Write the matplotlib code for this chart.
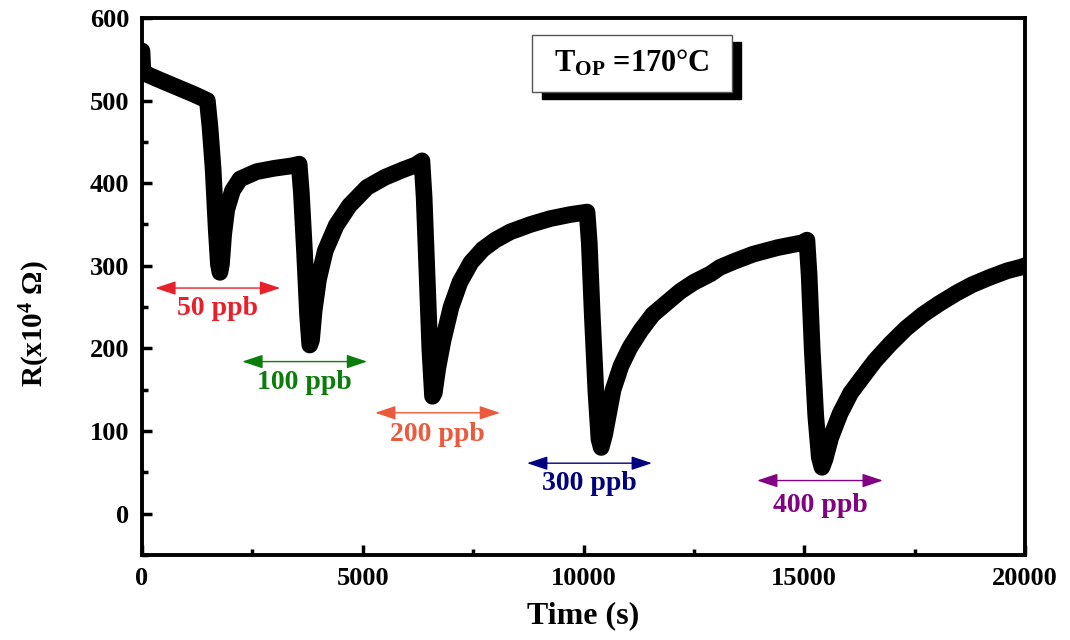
import matplotlib
matplotlib.use("Agg")
import matplotlib.pyplot as plt
from matplotlib.patches import Rectangle
from matplotlib.ticker import MultipleLocator

# sensor response (time in s, R in 1e4 ohm)
time_s = [0, 20, 100, 400, 800, 1200, 1480, 1540, 1610, 1680, 1730, 1765, 1800,
          1850, 1920, 2050, 2220, 2600, 3000, 3400, 3560,
          3610, 3680, 3750, 3800, 3840, 3900, 4000, 4150, 4400, 4700, 5100,
          5500, 5900, 6200, 6340,
          6390, 6450, 6520, 6580, 6620, 6700, 6820, 7000, 7200, 7450, 7720,
          8000, 8340, 8800, 9240, 9700, 10080,
          10130, 10200, 10280, 10350, 10400, 10480, 10670, 10850, 11050, 11300,
          11570, 11900, 12190, 12500, 12870, 13090, 13400, 13840, 14400,
          14970, 15060,
          15110, 15180, 15260, 15340, 15400, 15470, 15600, 15810, 16050, 16330,
          16600, 16940, 17300, 17690, 18050, 18450, 18800, 19200, 19600, 19890,
          20000]
resistance = [560, 536, 532, 525, 516, 507, 500, 468, 418, 345, 302, 292, 302,
              338, 368, 391, 405, 414, 418, 421, 423,
              388, 318, 240, 204, 210, 246, 284, 318, 349, 373, 395,
              407, 416, 422, 427,
              383, 298, 198, 142, 146, 176, 210, 250, 280, 304, 320,
              331, 341, 350, 357, 362, 365,
              328, 238, 148, 90, 80, 96, 150, 179, 201, 222,
              241, 256, 269, 280, 290, 298, 305, 314, 322,
              328, 331,
              288, 198, 118, 68, 56, 66, 92, 121, 146, 166,
              185, 205, 224, 241, 254, 267, 277, 286, 294, 298,
              300]

# concentration arrows: label, start, end, arrow height, colour
dose_labels = ["50 ppb", "100 ppb", "200 ppb", "300 ppb", "400 ppb"]
arrow_start = [300, 2270, 5280, 8720, 13930]
arrow_end = [3130, 5100, 8110, 11550, 16780]
arrow_level = [273, 184, 122, 61, 40]
label_level = [248, 159, 96, 36, 10]
dose_colors = ["#e8202a", "#0b7d0b", "#ea5a3c", "#00007f", "#820082"]

plt.rcParams['font.family'] = ['Liberation Serif', 'DejaVu Serif']
plt.rcParams['font.weight'] = 'bold'
plt.rcParams['mathtext.fontset'] = 'custom'
plt.rcParams['mathtext.rm'] = 'Liberation Serif:bold'
plt.rcParams['mathtext.bf'] = 'Liberation Serif:bold'
plt.rcParams['mathtext.it'] = 'Liberation Serif:bold'

fig = plt.figure(figsize=(10.7, 6.4), dpi=100)
ax = fig.add_axes([0.1327, 0.133, 0.8253, 0.839])

ax.plot(time_s, resistance, color='black', lw=12,
        solid_joinstyle='round', solid_capstyle='round', zorder=3)

for lab, x0, x1, ya, yl, c in zip(dose_labels, arrow_start, arrow_end,
                                  arrow_level, label_level, dose_colors):
    ax.annotate('', xy=(x1, ya), xytext=(x0, ya),
                arrowprops=dict(arrowstyle='<|-|>,head_length=0.9,head_width=0.3',
                                color=c, lw=1.0, mutation_scale=14,
                                shrinkA=0, shrinkB=0))
    ax.text((x0 + x1) / 2, yl, lab, color=c, fontsize=20, fontweight='bold',
            ha='center', va='center')

ax.set_xlim(0, 20000)
ax.set_ylim(-50, 600)
ax.xaxis.set_major_locator(MultipleLocator(5000))
ax.xaxis.set_minor_locator(MultipleLocator(2500))
ax.yaxis.set_major_locator(MultipleLocator(100))
ax.yaxis.set_minor_locator(MultipleLocator(50))
ax.tick_params(which='both', direction='in', top=False, right=False,
               width=2.5, labelsize=19, pad=9)
ax.tick_params(which='major', length=7)
ax.tick_params(which='minor', length=4)
for sp in ax.spines.values():
    sp.set_linewidth(2.8)

ax.set_xlabel('Time (s)', fontsize=23, fontweight='bold', labelpad=8)
ax.set_ylabel(r'R(x10$^{4}$ $\Omega$)', fontsize=21, fontweight='bold')
ax.yaxis.set_label_coords(-0.102, 0.43)

# operating temperature box with drop shadow
bx, by, bw, bh = 0.442, 0.862, 0.226, 0.106
ax.add_patch(Rectangle((bx + 0.0105, by - 0.013), bw, bh, transform=ax.transAxes,
                       facecolor='black', edgecolor='black', zorder=5))
ax.add_patch(Rectangle((bx, by), bw, bh, transform=ax.transAxes,
                       facecolor='white', edgecolor='#555555', lw=1.0, zorder=6))
ax.text(bx + bw / 2, by + bh / 2, r'T$_{\mathrm{OP}}$ =170°C', transform=ax.transAxes,
        fontsize=22, fontweight='bold', ha='center', va='center', zorder=7)

fig.savefig('out.png', dpi=100)
